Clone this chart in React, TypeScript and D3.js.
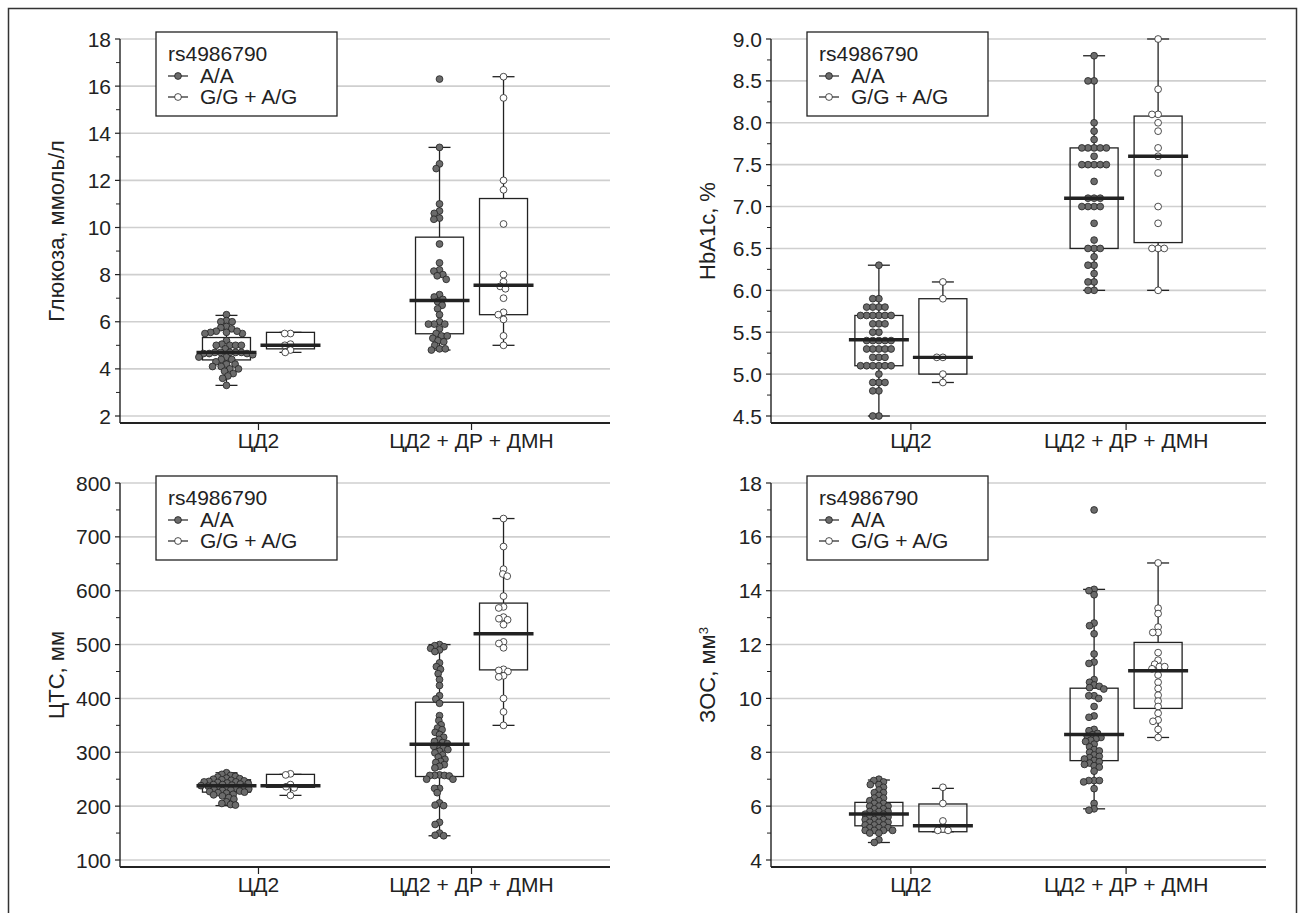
import React from "react";
import * as d3 from "d3";

const categories = ["ЦД2", "ЦД2 + ДР + ДМН"];
const genotypes = ["A/A", "G/G + A/G"];
const snpLabel = "rs4986790";

// ---------- Panel 1: glucose ----------
const glucoseTicks = [2, 4, 6, 8, 10, 12, 14, 16, 18];
const glucoseAA_T2D = [6.3, 6.05, 6.0, 6.0, 5.8, 5.75, 5.7, 5.6, 5.55, 5.55, 5.5, 5.5, 5.6, 5.2, 5.05, 5.0, 5.0, 5.0, 5.0, 4.85, 4.7, 4.7, 4.7, 4.7, 4.7, 4.65, 4.65, 4.65, 4.6, 4.5, 4.5, 4.4, 4.4, 4.3, 4.2, 4.2, 4.1, 4.1, 4.0, 4.0, 3.9, 3.8, 3.7, 3.6, 3.3];
const glucoseGG_T2D = [5.5, 5.5, 5.05, 5.0, 4.8, 4.7];
const glucoseAA_DR = [16.3, 13.4, 12.7, 12.5, 11.0, 10.7, 10.6, 10.4, 10.35, 9.3, 8.5, 8.2, 8.15, 8.0, 7.95, 7.8, 7.15, 7.05, 6.95, 6.85, 6.7, 6.55, 6.3, 6.0, 5.9, 5.9, 5.9, 5.7, 5.5, 5.4, 5.4, 5.3, 5.2, 5.15, 5.0, 4.85, 4.85, 4.8];
const glucoseGG_DR = [16.4, 15.5, 12.0, 11.6, 10.15, 8.0, 7.7, 7.5, 7.4, 7.0, 6.4, 6.3, 6.1, 5.4, 5.0];
// [low whisker, Q1, median, Q3, high whisker]
const glucoseBoxAA_T2D = [3.3, 4.38, 4.7, 5.33, 6.27];
const glucoseBoxGG_T2D = [4.7, 4.85, 5.0, 5.55, 5.55];
const glucoseBoxAA_DR = [4.8, 5.49, 6.9, 9.59, 13.4];
const glucoseBoxGG_DR = [5.0, 6.3, 7.55, 11.23, 16.4];

// ---------- Panel 2: HbA1c ----------
const hba1cTicks = [4.5, 5.0, 5.5, 6.0, 6.5, 7.0, 7.5, 8.0, 8.5, 9.0];
const hba1cAA_T2D = [6.3, 5.9, 5.9, 5.8, 5.8, 5.8, 5.8, 5.7, 5.7, 5.7, 5.7, 5.7, 5.7, 5.6, 5.6, 5.6, 5.5, 5.5, 5.4, 5.4, 5.4, 5.4, 5.4, 5.3, 5.3, 5.3, 5.3, 5.3, 5.2, 5.2, 5.2, 5.1, 5.1, 5.1, 5.1, 5.1, 5.1, 5.0, 4.9, 4.9, 4.9, 4.8, 4.8, 4.5, 4.5];
const hba1cGG_T2D = [6.1, 5.9, 5.2, 5.2, 5.0, 4.9];
const hba1cAA_DR = [8.8, 8.5, 8.5, 8.0, 7.9, 7.8, 7.7, 7.7, 7.7, 7.7, 7.7, 7.6, 7.5, 7.5, 7.5, 7.5, 7.5, 7.3, 7.1, 7.1, 7.1, 7.0, 7.0, 7.0, 7.0, 6.8, 6.6, 6.5, 6.5, 6.5, 6.4, 6.3, 6.3, 6.2, 6.1, 6.1, 6.0, 6.0];
const hba1cGG_DR = [9.0, 8.4, 8.1, 8.1, 8.0, 7.9, 7.7, 7.6, 7.4, 7.0, 6.8, 6.5, 6.5, 6.5, 6.0];
const hba1cBoxAA_T2D = [4.5, 5.1, 5.41, 5.7, 6.3];
const hba1cBoxGG_T2D = [4.9, 5.0, 5.2, 5.9, 6.1];
const hba1cBoxAA_DR = [6.0, 6.5, 7.1, 7.7, 8.8];
const hba1cBoxGG_DR = [6.0, 6.57, 7.6, 8.08, 9.0];

// ---------- Panel 3: CTS ----------
const ctsTicks = [100, 200, 300, 400, 500, 600, 700, 800];
const ctsAA_T2D = [262, 259, 257, 255, 254, 252, 251, 250, 249, 248, 247, 246, 245, 245, 244, 243, 242, 241, 240, 240, 239, 238, 237, 236, 235, 234, 233, 232, 231, 230, 229, 228, 227, 226, 225, 224, 222, 221, 219, 216, 213, 208, 205, 203, 202];
const ctsGG_T2D = [260, 258, 240, 236, 234, 220];
const ctsAA_DR = [500, 498, 496, 493, 490, 487, 466, 459, 454, 446, 435, 424, 405, 399, 391, 368, 359, 351, 345, 342, 337, 333, 328, 324, 320, 318, 316, 312, 311, 308, 305, 302, 299, 295, 291, 287, 283, 281, 277, 274, 271, 258, 257, 257, 256, 257, 250, 250, 233, 233, 225, 206, 202, 201, 170, 166, 150, 146, 145];
const ctsGG_DR = [734, 682, 640, 631, 627, 590, 570, 568, 551, 548, 546, 537, 505, 502, 494, 454, 452, 450, 442, 440, 400, 375, 350];
const ctsBoxAA_T2D = [201, 226, 238, 249, 262];
const ctsBoxGG_T2D = [220, 235, 238, 259, 259];
const ctsBoxAA_DR = [145, 255, 315, 393, 500];
const ctsBoxGG_DR = [350, 453, 520, 577, 734];

// ---------- Panel 4: ZOS ----------
const zosTicks = [4, 6, 8, 10, 12, 14, 16, 18];
const zosAA_T2D = [7.0, 6.95, 6.9, 6.8, 6.8, 6.7, 6.6, 6.5, 6.5, 6.4, 6.3, 6.3, 6.2, 6.2, 6.1, 6.1, 6.0, 6.0, 6.0, 5.9, 5.9, 5.8, 5.8, 5.8, 5.7, 5.7, 5.7, 5.6, 5.6, 5.6, 5.5, 5.5, 5.5, 5.4, 5.4, 5.4, 5.3, 5.3, 5.3, 5.2, 5.2, 5.2, 5.1, 5.1, 5.1, 5.1, 5.0, 5.0, 4.75, 4.65];
const zosGG_T2D = [6.7, 6.1, 5.45, 5.15, 5.1, 5.1];
const zosAA_DR = [17.0, 14.05, 14.0, 13.85, 12.8, 12.7, 12.4, 11.65, 11.35, 11.3, 10.7, 10.6, 10.5, 10.45, 10.4, 10.35, 10.1, 10.1, 10.0, 9.7, 9.35, 9.3, 8.85, 8.8, 8.7, 8.65, 8.6, 8.55, 8.5, 8.45, 8.4, 8.3, 8.2, 8.1, 8.05, 8.0, 7.9, 7.85, 7.8, 7.75, 7.7, 7.65, 7.6, 7.55, 7.5, 7.45, 7.3, 6.95, 6.95, 6.95, 6.9, 6.65, 6.1, 5.9, 5.85];
const zosGG_DR = [15.03, 13.35, 13.15, 12.65, 12.45, 12.45, 11.7, 11.42, 11.27, 11.18, 11.18, 11.1, 10.87, 10.6, 10.37, 10.12, 9.9, 9.7, 9.45, 9.2, 9.15, 8.85, 8.55];
const zosBoxAA_T2D = [4.65, 5.27, 5.71, 6.14, 6.97];
const zosBoxGG_T2D = [5.05, 5.05, 5.27, 6.08, 6.66];
const zosBoxAA_DR = [5.9, 7.69, 8.66, 10.38, 14.05];
const zosBoxGG_DR = [8.55, 9.63, 11.03, 12.08, 15.03];

const FONT = "'Liberation Sans', Arial, Helvetica, sans-serif";
const FS = 21;
const INK = "#222";
const GRID = "#cfcfcf";
const FILL_AA = "#6b6b6b";

type Panel = {
  label: string;
  sup?: string;
  ticks: number[];
  minor: number;
  fmt: (d: number) => string;
  points: number[][][]; // [category][genotype]
  boxes: number[][][];
  x0: number; x1: number; yTop: number; yBot: number;
  overlap: number;
};

const panels: Panel[] = [
  {
    label: "Глюкоза, ммоль/л", ticks: glucoseTicks, minor: 1, fmt: d3.format("d"),
    points: [[glucoseAA_T2D, glucoseGG_T2D], [glucoseAA_DR, glucoseGG_DR]],
    boxes: [[glucoseBoxAA_T2D, glucoseBoxGG_T2D], [glucoseBoxAA_DR, glucoseBoxGG_DR]],
    x0: 120, x1: 610, yTop: 39, yBot: 416, overlap: 0.85,
  },
  {
    label: "HbA1c, %", ticks: hba1cTicks, minor: 0.25, fmt: d3.format(".1f"),
    points: [[hba1cAA_T2D, hba1cGG_T2D], [hba1cAA_DR, hba1cGG_DR]],
    boxes: [[hba1cBoxAA_T2D, hba1cBoxGG_T2D], [hba1cBoxAA_DR, hba1cBoxGG_DR]],
    x0: 771, x1: 1266, yTop: 39, yBot: 416, overlap: 0.9,
  },
  {
    label: "ЦТС, мм", ticks: ctsTicks, minor: 50, fmt: d3.format("d"),
    points: [[ctsAA_T2D, ctsGG_T2D], [ctsAA_DR, ctsGG_DR]],
    boxes: [[ctsBoxAA_T2D, ctsBoxGG_T2D], [ctsBoxAA_DR, ctsBoxGG_DR]],
    x0: 120, x1: 610, yTop: 483, yBot: 860, overlap: 0.72,
  },
  {
    label: "ЗОС, мм", sup: "3", ticks: zosTicks, minor: 1, fmt: d3.format("d"),
    points: [[zosAA_T2D, zosGG_T2D], [zosAA_DR, zosGG_DR]],
    boxes: [[zosBoxAA_T2D, zosBoxGG_T2D], [zosBoxAA_DR, zosBoxGG_DR]],
    x0: 771, x1: 1266, yTop: 483, yBot: 860, overlap: 0.78,
  },
];

const R = 3.4;

function swarm(ys: number[], d: number): number[] {
  const placed: { x: number; y: number }[] = [];
  const xs: number[] = new Array(ys.length).fill(0);
  const order = ys.map((_, i) => i).sort((a, b) => ys[a] - ys[b]);
  for (const i of order) {
    const y = ys[i];
    const iv: [number, number][] = [];
    for (const p of placed) {
      const dy = Math.abs(p.y - y);
      if (dy < d) {
        const dx = Math.sqrt(d * d - dy * dy);
        iv.push([p.x - dx, p.x + dx]);
      }
    }
    const cands = [0];
    iv.forEach(([a, b]) => cands.push(a, b));
    cands.sort((a, b) => Math.abs(a) - Math.abs(b) || a - b);
    let chosen = 0;
    for (const c of cands) {
      if (iv.every(([a, b]) => c <= a + 1e-6 || c >= b - 1e-6)) { chosen = c; break; }
    }
    placed.push({ x: chosen, y });
    xs[i] = chosen;
  }
  return xs;
}

function PanelView({ p }: { p: Panel }) {
  const lo = p.ticks[0];
  const hi = p.ticks[p.ticks.length - 1];
  const y = d3.scaleLinear().domain([lo, hi]).range([p.yBot, p.yTop]);
  const axisY = p.yBot + 7;
  const x = d3.scalePoint<string>().domain(categories).range([p.x0, p.x1]).padding(0.65);
  const offsets = [-32, 32];
  const minorTicks = d3.range(lo, hi + 1e-9, p.minor).filter((v) => !p.ticks.some((t) => Math.abs(t - v) < 1e-9));
  const cy = (p.yTop + axisY) / 2;
  const legX = p.x0 + 36;
  const legY = p.yTop - 7;

  return (
    <g>
      {p.ticks.map((t) => (
        <line key={"g" + t} x1={p.x0} x2={p.x1} y1={y(t)} y2={y(t)} stroke={GRID} strokeWidth={1.6} />
      ))}
      <line x1={p.x0} x2={p.x0} y1={p.yTop} y2={axisY} stroke={INK} strokeWidth={1.4} />
      {p.ticks.map((t) => (
        <g key={"t" + t}>
          <line x1={p.x0 - 5} x2={p.x0} y1={y(t)} y2={y(t)} stroke={INK} strokeWidth={1.2} />
          <text x={p.x0 - 9} y={y(t)} dy="0.36em" textAnchor="end" fontSize={FS} fontFamily={FONT} fill={INK}>
            {p.fmt(t)}
          </text>
        </g>
      ))}
      {minorTicks.map((t) => (
        <line key={"m" + t} x1={p.x0 - 4} x2={p.x0} y1={y(t)} y2={y(t)} stroke={INK} strokeWidth={1} />
      ))}
      <line x1={p.x0} x2={p.x1} y1={axisY} y2={axisY} stroke={INK} strokeWidth={1.8} />
      {categories.map((c) => (
        <g key={"c" + c}>
          <line x1={x(c)!} x2={x(c)!} y1={axisY} y2={axisY + 7} stroke={INK} strokeWidth={1.2} />
          <text x={x(c)!} y={axisY + 25} textAnchor="middle" fontSize={FS} fontFamily={FONT} fill={INK}>{c}</text>
        </g>
      ))}
      <text
        transform={`translate(${p.x0 - 64},${cy}) rotate(-90)`}
        textAnchor="middle" dy="0.35em" fontSize={FS + 1} fontFamily={FONT} fill={INK}
      >
        {p.label}
        {p.sup ? <tspan dy="-0.55em" fontSize={13}>{p.sup}</tspan> : null}
      </text>
      {categories.map((c, ci) =>
        genotypes.map((g, gi) => {
          const cx = x(c)! + offsets[gi];
          const [wl, q1, med, q3, wh] = p.boxes[ci][gi];
          const vals = p.points[ci][gi];
          const ys = vals.map((v) => y(v));
          const xs = swarm(ys, 2 * R * p.overlap);
          return (
            <g key={c + g}>
              <line x1={cx} x2={cx} y1={y(wh)} y2={y(q3)} stroke={INK} strokeWidth={1.3} />
              <line x1={cx} x2={cx} y1={y(q1)} y2={y(wl)} stroke={INK} strokeWidth={1.3} />
              <line x1={cx - 11} x2={cx + 11} y1={y(wh)} y2={y(wh)} stroke={INK} strokeWidth={1.3} />
              <line x1={cx - 11} x2={cx + 11} y1={y(wl)} y2={y(wl)} stroke={INK} strokeWidth={1.3} />
              <rect x={cx - 24} y={y(q3)} width={48} height={y(q1) - y(q3)} fill="none" stroke={INK} strokeWidth={1.3} />
              {vals.map((v, i) => (
                <circle key={i} cx={cx + xs[i]} cy={ys[i]} r={R}
                  fill={gi === 0 ? FILL_AA : "#fff"} stroke={INK} strokeWidth={0.8} />
              ))}
              <line x1={cx - 30} x2={cx + 30} y1={y(med)} y2={y(med)} stroke={INK} strokeWidth={3.4} />
            </g>
          );
        })
      )}
      <g>
        <rect x={legX} y={legY} width={181} height={84} fill="#fff" stroke={INK} strokeWidth={1.3} />
        <text x={legX + 12} y={legY + 29} fontSize={FS} fontFamily={FONT} fill={INK}>{snpLabel}</text>
        {genotypes.map((g, gi) => (
          <g key={"l" + g}>
            <line x1={legX + 12} x2={legX + 32} y1={legY + 44 + gi * 21} y2={legY + 44 + gi * 21} stroke={INK} strokeWidth={1.2} />
            <circle cx={legX + 22} cy={legY + 44 + gi * 21} r={R} fill={gi === 0 ? FILL_AA : "#fff"} stroke={INK} strokeWidth={0.8} />
            <text x={legX + 44} y={legY + 51 + gi * 21} fontSize={FS} fontFamily={FONT} fill={INK}>{g}</text>
          </g>
        ))}
      </g>
    </g>
  );
}

export default function App() {
  return (
    <svg width={1303} height={913} style={{ position: "absolute", left: 0, top: 0, background: "#fff" }}>
      <rect x={0} y={0} width={1303} height={913} fill="#fff" />
      <path d="M8.5,913 V8.5 H1296.5 V913" fill="none" stroke="#333" strokeWidth={1.5} />
      {panels.map((p, i) => <PanelView key={i} p={p} />)}
    </svg>
  );
}
